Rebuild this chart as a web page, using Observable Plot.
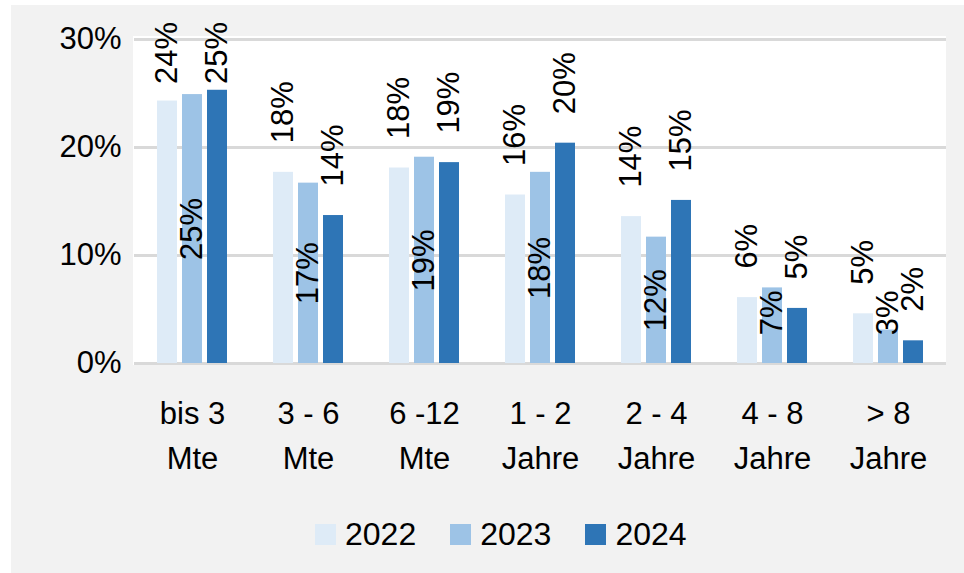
<!DOCTYPE html>
<html>
<head>
<meta charset="utf-8">
<script src="https://cdn.jsdelivr.net/npm/d3@7"></script>
<script src="https://cdn.jsdelivr.net/npm/@observablehq/plot@0.6"></script>
<style>
  html, body { margin: 0; padding: 0; background: #ffffff; }
  #wrap { position: relative; width: 964px; height: 573px; overflow: hidden; font-family: "Liberation Sans", Arial, sans-serif; }
  #bg { position: absolute; left: 11px; top: 5px; right: 0; bottom: 0; background: #f2f2f2; }
  #plotbg { position: absolute; left: 133px; top: 36px; width: 813px; height: 329px; background: #ffffff; }
  #chart { position: absolute; left: 0; top: 0; }
  #legend { position: absolute; top: 516px; left: 315px; display: flex; align-items: center; font-size: 32px; color: #000; }
  .item { display: flex; align-items: center; margin-right: 34px; }
  .sw { width: 21px; height: 21px; margin-right: 9px; }
</style>
</head>
<body>
<div id="wrap">
  <div id="bg"></div>
  <div id="plotbg"></div>
  <div id="chart"></div>
  <div id="legend"></div>
</div>
<script>
const categories = ["bis 3 Mte", "3 - 6 Mte", "6 -12 Mte", "1 - 2 Jahre", "2 - 4 Jahre", "4 - 8 Jahre", "> 8 Jahre"];
const tickLabels = ["bis 3\nMte", "3 - 6\nMte", "6 -12\nMte", "1 - 2\nJahre", "2 - 4\nJahre", "4 - 8\nJahre", "> 8\nJahre"];
const years = ["2022", "2023", "2024"];
const v2022 = [24.3, 17.7, 18.1, 15.6, 13.6, 6.1, 4.6];
const v2023 = [24.9, 16.7, 19.1, 17.7, 11.7, 7.0, 3.1];
const v2024 = [25.3, 13.7, 18.6, 20.4, 15.1, 5.1, 2.1];
const yTicks = [0, 10, 20, 30];
const colors = ["#deebf7", "#9dc3e6", "#2e75b6"];

// Excel-like label placement limits (in data units)
const outsideLabelCeiling = 23.2; // labels above bars are clamped near top of chart
const insideLabelFloor = 4.7;     // centred labels never sink below this

const series = [v2022, v2023, v2024];
const data = [];
years.forEach((yr, j) => {
  categories.forEach((c, i) => data.push({cat: c, year: yr, v: series[j][i]}));
});
const labelOf = Object.fromEntries(categories.map((c, i) => [c, tickLabels[i]]));
const pct = d => Math.round(d.v) + "%";

const chart = Plot.plot({
  width: 964,
  height: 573,
  marginLeft: 133,
  marginRight: 18,
  marginTop: 39,
  marginBottom: 210,
  style: {background: "transparent", fontFamily: "'Liberation Sans', Arial, sans-serif", fontSize: "31px", color: "#000", overflow: "visible"},
  fx: {domain: categories, paddingInner: 0.38, paddingOuter: 0.19, label: null, axis: null},
  x: {domain: years, paddingInner: 0.22, paddingOuter: 0, axis: null},
  y: {domain: [0, 30], axis: null},
  color: {domain: years, range: colors},
  marks: [
    Plot.ruleY(yTicks, {y: d => d, stroke: "#d9d9d9", strokeWidth: 3, insetLeft: -22, insetRight: -22}),
    Plot.barY(data, {fx: "cat", x: "year", y: "v", fill: "year"}),
    Plot.text(data.filter(d => d.year !== "2023"), {
      fx: "cat", x: "year", y: d => Math.min(d.v, outsideLabelCeiling),
      text: pct, rotate: -90, textAnchor: "start", dy: -29, fill: "#000", fontSize: 31
    }),
    Plot.text(data.filter(d => d.year === "2023"), {
      fx: "cat", x: "year", y: d => Math.max(d.v / 2, insideLabelFloor),
      text: pct, rotate: -90, textAnchor: "middle", fill: "#000", fontSize: 31
    }),
    Plot.axisY(yTicks, {tickSize: 0, tickPadding: 35, tickFormat: d => d + "%", fontSize: 31, label: null}),
    Plot.axisFx({anchor: "bottom", tickSize: 0, tickPadding: 28, tickFormat: d => labelOf[d], fontSize: 31, lineHeight: 1.47, label: null})
  ]
});
document.getElementById("chart").appendChild(chart);

const legend = document.getElementById("legend");
years.forEach((yr, j) => {
  const item = document.createElement("div");
  item.className = "item";
  const sw = document.createElement("div");
  sw.className = "sw";
  sw.style.background = colors[j];
  const t = document.createElement("span");
  t.textContent = yr;
  item.appendChild(sw);
  item.appendChild(t);
  legend.appendChild(item);
});
</script>
</body>
</html>
